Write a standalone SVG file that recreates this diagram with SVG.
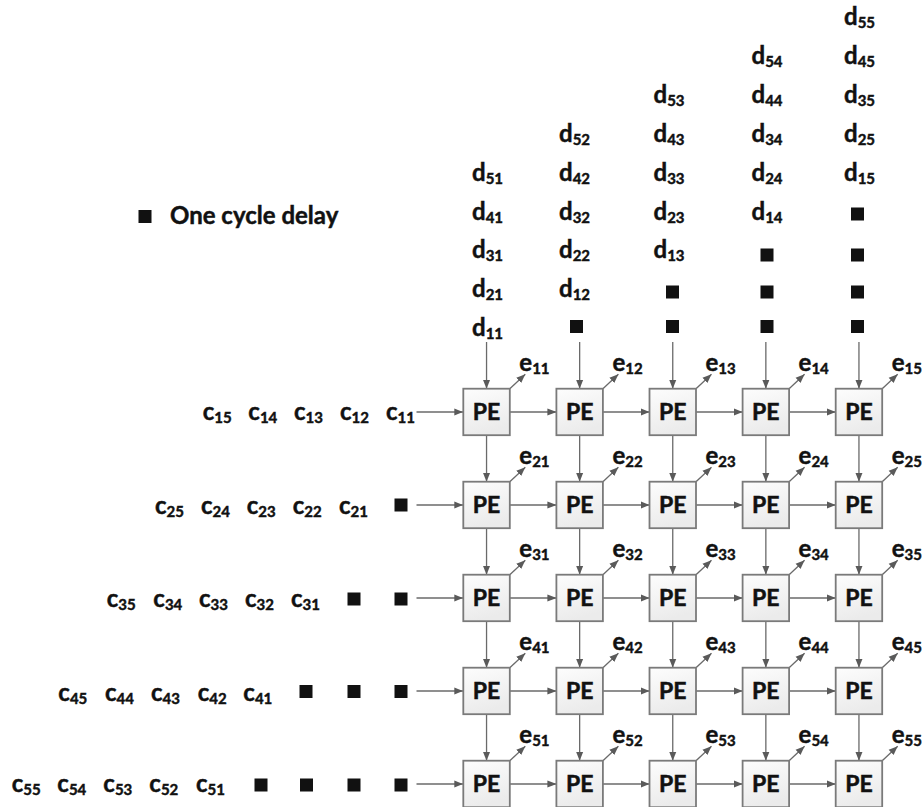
<svg xmlns="http://www.w3.org/2000/svg" width="922" height="807" viewBox="0 0 922 807">
  <defs>
    <linearGradient id="peFill" x1="0" y1="0" x2="0.3" y2="1">
      <stop offset="0" stop-color="#fdfdfd"/>
      <stop offset="1" stop-color="#ebebeb"/>
    </linearGradient>
    <marker id="arr" viewBox="0 0 10 10" refX="10" refY="5" markerUnits="userSpaceOnUse" markerWidth="9" markerHeight="9" orient="auto">
      <path d="M0,1 L10,5 L0,9 Z" fill="#5a5a5a"/>
    </marker>
    <style>
      .pe rect { fill: url(#peFill); stroke: #7a7a7a; stroke-width: 1.8; }
      .pe text { font-family: Lato, "Open Sans", sans-serif; font-weight: 700; font-size: 23px; text-anchor: middle; fill: #111; stroke: #111; stroke-width: 0.5; }
      .lbl { font-family: Lato, "Open Sans", sans-serif; font-weight: 700; font-size: 24px; fill: #111; stroke: #111; stroke-width: 0.45; }
      .lbl tspan { font-size: 15px; }
      .dly { fill: #111; }
      #connectors path { fill: none; stroke: #6a6a6a; stroke-width: 1.3; marker-end: url(#arr); }
    </style>
  </defs>

  <!-- legend -->
  <g id="legend">
    <rect class="dly" x="138.5" y="210" width="13" height="13"/>
    <text class="lbl" x="170" y="223.5">One cycle delay</text>
  </g>

  <!-- connectors: inputs, systolic links and outputs -->
  <g id="connectors">
    <!-- horizontal links -->
    <path d="M416.5,412 H463.3"/><path d="M509.8,412 H556.4"/><path d="M602.9,412 H649.5"/><path d="M696,412 H742.6"/><path d="M789.1,412 H835.7"/>
    <path d="M416.5,505 H463.3"/><path d="M509.8,505 H556.4"/><path d="M602.9,505 H649.5"/><path d="M696,505 H742.6"/><path d="M789.1,505 H835.7"/>
    <path d="M416.5,598 H463.3"/><path d="M509.8,598 H556.4"/><path d="M602.9,598 H649.5"/><path d="M696,598 H742.6"/><path d="M789.1,598 H835.7"/>
    <path d="M416.5,691 H463.3"/><path d="M509.8,691 H556.4"/><path d="M602.9,691 H649.5"/><path d="M696,691 H742.6"/><path d="M789.1,691 H835.7"/>
    <path d="M416.5,784 H463.3"/><path d="M509.8,784 H556.4"/><path d="M602.9,784 H649.5"/><path d="M696,784 H742.6"/><path d="M789.1,784 H835.7"/>
    <!-- vertical links -->
    <path d="M486.55,342 V388.7"/><path d="M486.55,435.2 V481.7"/><path d="M486.55,528.2 V574.7"/><path d="M486.55,621.2 V667.7"/><path d="M486.55,714.2 V760.7"/>
    <path d="M579.65,342 V388.7"/><path d="M579.65,435.2 V481.7"/><path d="M579.65,528.2 V574.7"/><path d="M579.65,621.2 V667.7"/><path d="M579.65,714.2 V760.7"/>
    <path d="M672.75,342 V388.7"/><path d="M672.75,435.2 V481.7"/><path d="M672.75,528.2 V574.7"/><path d="M672.75,621.2 V667.7"/><path d="M672.75,714.2 V760.7"/>
    <path d="M765.85,342 V388.7"/><path d="M765.85,435.2 V481.7"/><path d="M765.85,528.2 V574.7"/><path d="M765.85,621.2 V667.7"/><path d="M765.85,714.2 V760.7"/>
    <path d="M858.95,342 V388.7"/><path d="M858.95,435.2 V481.7"/><path d="M858.95,528.2 V574.7"/><path d="M858.95,621.2 V667.7"/><path d="M858.95,714.2 V760.7"/>
    <!-- result outputs -->
    <path d="M509.8,388.7 l15.5,-14.5"/><path d="M602.9,388.7 l15.5,-14.5"/><path d="M696,388.7 l15.5,-14.5"/><path d="M789.1,388.7 l15.5,-14.5"/><path d="M882.2,388.7 l15.5,-14.5"/>
    <path d="M509.8,481.7 l15.5,-14.5"/><path d="M602.9,481.7 l15.5,-14.5"/><path d="M696,481.7 l15.5,-14.5"/><path d="M789.1,481.7 l15.5,-14.5"/><path d="M882.2,481.7 l15.5,-14.5"/>
    <path d="M509.8,574.7 l15.5,-14.5"/><path d="M602.9,574.7 l15.5,-14.5"/><path d="M696,574.7 l15.5,-14.5"/><path d="M789.1,574.7 l15.5,-14.5"/><path d="M882.2,574.7 l15.5,-14.5"/>
    <path d="M509.8,667.7 l15.5,-14.5"/><path d="M602.9,667.7 l15.5,-14.5"/><path d="M696,667.7 l15.5,-14.5"/><path d="M789.1,667.7 l15.5,-14.5"/><path d="M882.2,667.7 l15.5,-14.5"/>
    <path d="M509.8,760.7 l15.5,-14.5"/><path d="M602.9,760.7 l15.5,-14.5"/><path d="M696,760.7 l15.5,-14.5"/><path d="M789.1,760.7 l15.5,-14.5"/><path d="M882.2,760.7 l15.5,-14.5"/>
  </g>

  <!-- processing elements -->
  <g id="pe-1-1" class="pe" transform="translate(463.3,388.7)"><rect width="46.5" height="46.5"/><text x="23.25" y="31">PE</text></g>
  <g id="pe-1-2" class="pe" transform="translate(556.4,388.7)"><rect width="46.5" height="46.5"/><text x="23.25" y="31">PE</text></g>
  <g id="pe-1-3" class="pe" transform="translate(649.5,388.7)"><rect width="46.5" height="46.5"/><text x="23.25" y="31">PE</text></g>
  <g id="pe-1-4" class="pe" transform="translate(742.6,388.7)"><rect width="46.5" height="46.5"/><text x="23.25" y="31">PE</text></g>
  <g id="pe-1-5" class="pe" transform="translate(835.7,388.7)"><rect width="46.5" height="46.5"/><text x="23.25" y="31">PE</text></g>
  <g id="pe-2-1" class="pe" transform="translate(463.3,481.7)"><rect width="46.5" height="46.5"/><text x="23.25" y="31">PE</text></g>
  <g id="pe-2-2" class="pe" transform="translate(556.4,481.7)"><rect width="46.5" height="46.5"/><text x="23.25" y="31">PE</text></g>
  <g id="pe-2-3" class="pe" transform="translate(649.5,481.7)"><rect width="46.5" height="46.5"/><text x="23.25" y="31">PE</text></g>
  <g id="pe-2-4" class="pe" transform="translate(742.6,481.7)"><rect width="46.5" height="46.5"/><text x="23.25" y="31">PE</text></g>
  <g id="pe-2-5" class="pe" transform="translate(835.7,481.7)"><rect width="46.5" height="46.5"/><text x="23.25" y="31">PE</text></g>
  <g id="pe-3-1" class="pe" transform="translate(463.3,574.7)"><rect width="46.5" height="46.5"/><text x="23.25" y="31">PE</text></g>
  <g id="pe-3-2" class="pe" transform="translate(556.4,574.7)"><rect width="46.5" height="46.5"/><text x="23.25" y="31">PE</text></g>
  <g id="pe-3-3" class="pe" transform="translate(649.5,574.7)"><rect width="46.5" height="46.5"/><text x="23.25" y="31">PE</text></g>
  <g id="pe-3-4" class="pe" transform="translate(742.6,574.7)"><rect width="46.5" height="46.5"/><text x="23.25" y="31">PE</text></g>
  <g id="pe-3-5" class="pe" transform="translate(835.7,574.7)"><rect width="46.5" height="46.5"/><text x="23.25" y="31">PE</text></g>
  <g id="pe-4-1" class="pe" transform="translate(463.3,667.7)"><rect width="46.5" height="46.5"/><text x="23.25" y="31">PE</text></g>
  <g id="pe-4-2" class="pe" transform="translate(556.4,667.7)"><rect width="46.5" height="46.5"/><text x="23.25" y="31">PE</text></g>
  <g id="pe-4-3" class="pe" transform="translate(649.5,667.7)"><rect width="46.5" height="46.5"/><text x="23.25" y="31">PE</text></g>
  <g id="pe-4-4" class="pe" transform="translate(742.6,667.7)"><rect width="46.5" height="46.5"/><text x="23.25" y="31">PE</text></g>
  <g id="pe-4-5" class="pe" transform="translate(835.7,667.7)"><rect width="46.5" height="46.5"/><text x="23.25" y="31">PE</text></g>
  <g id="pe-5-1" class="pe" transform="translate(463.3,760.7)"><rect width="46.5" height="46.5"/><text x="23.25" y="31">PE</text></g>
  <g id="pe-5-2" class="pe" transform="translate(556.4,760.7)"><rect width="46.5" height="46.5"/><text x="23.25" y="31">PE</text></g>
  <g id="pe-5-3" class="pe" transform="translate(649.5,760.7)"><rect width="46.5" height="46.5"/><text x="23.25" y="31">PE</text></g>
  <g id="pe-5-4" class="pe" transform="translate(742.6,760.7)"><rect width="46.5" height="46.5"/><text x="23.25" y="31">PE</text></g>
  <g id="pe-5-5" class="pe" transform="translate(835.7,760.7)"><rect width="46.5" height="46.5"/><text x="23.25" y="31">PE</text></g>

  <!-- output labels -->
  <g id="outputs">
    <text class="lbl" x="519.3" y="371.2">e<tspan dy="3">11</tspan></text>
    <text class="lbl" x="612.4" y="371.2">e<tspan dy="3">12</tspan></text>
    <text class="lbl" x="705.5" y="371.2">e<tspan dy="3">13</tspan></text>
    <text class="lbl" x="798.6" y="371.2">e<tspan dy="3">14</tspan></text>
    <text class="lbl" x="891.7" y="371.2">e<tspan dy="3">15</tspan></text>
    <text class="lbl" x="519.3" y="464.2">e<tspan dy="3">21</tspan></text>
    <text class="lbl" x="612.4" y="464.2">e<tspan dy="3">22</tspan></text>
    <text class="lbl" x="705.5" y="464.2">e<tspan dy="3">23</tspan></text>
    <text class="lbl" x="798.6" y="464.2">e<tspan dy="3">24</tspan></text>
    <text class="lbl" x="891.7" y="464.2">e<tspan dy="3">25</tspan></text>
    <text class="lbl" x="519.3" y="557.2">e<tspan dy="3">31</tspan></text>
    <text class="lbl" x="612.4" y="557.2">e<tspan dy="3">32</tspan></text>
    <text class="lbl" x="705.5" y="557.2">e<tspan dy="3">33</tspan></text>
    <text class="lbl" x="798.6" y="557.2">e<tspan dy="3">34</tspan></text>
    <text class="lbl" x="891.7" y="557.2">e<tspan dy="3">35</tspan></text>
    <text class="lbl" x="519.3" y="650.2">e<tspan dy="3">41</tspan></text>
    <text class="lbl" x="612.4" y="650.2">e<tspan dy="3">42</tspan></text>
    <text class="lbl" x="705.5" y="650.2">e<tspan dy="3">43</tspan></text>
    <text class="lbl" x="798.6" y="650.2">e<tspan dy="3">44</tspan></text>
    <text class="lbl" x="891.7" y="650.2">e<tspan dy="3">45</tspan></text>
    <text class="lbl" x="519.3" y="743.2">e<tspan dy="3">51</tspan></text>
    <text class="lbl" x="612.4" y="743.2">e<tspan dy="3">52</tspan></text>
    <text class="lbl" x="705.5" y="743.2">e<tspan dy="3">53</tspan></text>
    <text class="lbl" x="798.6" y="743.2">e<tspan dy="3">54</tspan></text>
    <text class="lbl" x="891.7" y="743.2">e<tspan dy="3">55</tspan></text>
  </g>

  <!-- column inputs (d) with skew delays -->
  <g id="d-col1">
    <text class="lbl" x="472" y="180.6">d<tspan dy="3">51</tspan></text>
    <text class="lbl" x="472" y="219.5">d<tspan dy="3">41</tspan></text>
    <text class="lbl" x="472" y="258.4">d<tspan dy="3">31</tspan></text>
    <text class="lbl" x="472" y="297.3">d<tspan dy="3">21</tspan></text>
    <text class="lbl" x="472" y="336.2">d<tspan dy="3">11</tspan></text>
  </g>
  <g id="d-col2">
    <text class="lbl" x="559" y="141.7">d<tspan dy="3">52</tspan></text>
    <text class="lbl" x="559" y="180.6">d<tspan dy="3">42</tspan></text>
    <text class="lbl" x="559" y="219.5">d<tspan dy="3">32</tspan></text>
    <text class="lbl" x="559" y="258.4">d<tspan dy="3">22</tspan></text>
    <text class="lbl" x="559" y="297.3">d<tspan dy="3">12</tspan></text>
    <rect class="dly" x="570" y="320" width="13" height="13"/>
  </g>
  <g id="d-col3">
    <text class="lbl" x="653.5" y="102.8">d<tspan dy="3">53</tspan></text>
    <text class="lbl" x="653.5" y="141.7">d<tspan dy="3">43</tspan></text>
    <text class="lbl" x="653.5" y="180.6">d<tspan dy="3">33</tspan></text>
    <text class="lbl" x="653.5" y="219.5">d<tspan dy="3">23</tspan></text>
    <text class="lbl" x="653.5" y="258.4">d<tspan dy="3">13</tspan></text>
    <rect class="dly" x="666" y="285.5" width="13" height="13"/>
    <rect class="dly" x="666" y="320" width="13" height="13"/>
  </g>
  <g id="d-col4">
    <text class="lbl" x="751.5" y="63.9">d<tspan dy="3">54</tspan></text>
    <text class="lbl" x="751.5" y="102.8">d<tspan dy="3">44</tspan></text>
    <text class="lbl" x="751.5" y="141.7">d<tspan dy="3">34</tspan></text>
    <text class="lbl" x="751.5" y="180.6">d<tspan dy="3">24</tspan></text>
    <text class="lbl" x="751.5" y="219.5">d<tspan dy="3">14</tspan></text>
    <rect class="dly" x="760.5" y="248.5" width="13" height="13"/>
    <rect class="dly" x="760.5" y="285.5" width="13" height="13"/>
    <rect class="dly" x="760.5" y="320" width="13" height="13"/>
  </g>
  <g id="d-col5">
    <text class="lbl" x="844" y="25">d<tspan dy="3">55</tspan></text>
    <text class="lbl" x="844" y="63.9">d<tspan dy="3">45</tspan></text>
    <text class="lbl" x="844" y="102.8">d<tspan dy="3">35</tspan></text>
    <text class="lbl" x="844" y="141.7">d<tspan dy="3">25</tspan></text>
    <text class="lbl" x="844" y="180.6">d<tspan dy="3">15</tspan></text>
    <rect class="dly" x="851" y="207.5" width="13" height="13"/>
    <rect class="dly" x="851" y="248.5" width="13" height="13"/>
    <rect class="dly" x="851" y="285.5" width="13" height="13"/>
    <rect class="dly" x="851" y="320" width="13" height="13"/>
  </g>

  <!-- row inputs (c) with skew delays -->
  <g id="c-row1">
    <text class="lbl" x="202.7" y="420">c<tspan dy="3">15</tspan></text>
    <text class="lbl" x="248.3" y="420">c<tspan dy="3">14</tspan></text>
    <text class="lbl" x="294" y="420">c<tspan dy="3">13</tspan></text>
    <text class="lbl" x="340" y="420">c<tspan dy="3">12</tspan></text>
    <text class="lbl" x="386" y="420">c<tspan dy="3">11</tspan></text>
  </g>
  <g id="c-row2">
    <text class="lbl" x="155" y="513.5">c<tspan dy="3">25</tspan></text>
    <text class="lbl" x="201" y="513.5">c<tspan dy="3">24</tspan></text>
    <text class="lbl" x="246.7" y="513.5">c<tspan dy="3">23</tspan></text>
    <text class="lbl" x="292.7" y="513.5">c<tspan dy="3">22</tspan></text>
    <text class="lbl" x="339" y="513.5">c<tspan dy="3">21</tspan></text>
    <rect class="dly" x="394.5" y="498.5" width="13" height="13"/>
  </g>
  <g id="c-row3">
    <text class="lbl" x="106.7" y="607">c<tspan dy="3">35</tspan></text>
    <text class="lbl" x="153.3" y="607">c<tspan dy="3">34</tspan></text>
    <text class="lbl" x="199" y="607">c<tspan dy="3">33</tspan></text>
    <text class="lbl" x="245" y="607">c<tspan dy="3">32</tspan></text>
    <text class="lbl" x="291" y="607">c<tspan dy="3">31</tspan></text>
    <rect class="dly" x="347.5" y="592.5" width="13" height="13"/>
    <rect class="dly" x="394.5" y="592.5" width="13" height="13"/>
  </g>
  <g id="c-row4">
    <text class="lbl" x="58.3" y="700.5">c<tspan dy="3">45</tspan></text>
    <text class="lbl" x="105" y="700.5">c<tspan dy="3">44</tspan></text>
    <text class="lbl" x="151" y="700.5">c<tspan dy="3">43</tspan></text>
    <text class="lbl" x="197.7" y="700.5">c<tspan dy="3">42</tspan></text>
    <text class="lbl" x="243.3" y="700.5">c<tspan dy="3">41</tspan></text>
    <rect class="dly" x="299.5" y="685" width="13" height="13"/>
    <rect class="dly" x="347.5" y="685" width="13" height="13"/>
    <rect class="dly" x="394.5" y="685" width="13" height="13"/>
  </g>
  <g id="c-row5">
    <text class="lbl" x="11.7" y="792">c<tspan dy="3">55</tspan></text>
    <text class="lbl" x="57.3" y="792">c<tspan dy="3">54</tspan></text>
    <text class="lbl" x="103.3" y="792">c<tspan dy="3">53</tspan></text>
    <text class="lbl" x="149.3" y="792">c<tspan dy="3">52</tspan></text>
    <text class="lbl" x="196" y="792">c<tspan dy="3">51</tspan></text>
    <rect class="dly" x="254.5" y="778.5" width="13" height="13"/>
    <rect class="dly" x="300" y="778.5" width="13" height="13"/>
    <rect class="dly" x="347.5" y="778.5" width="13" height="13"/>
    <rect class="dly" x="394.5" y="778.5" width="13" height="13"/>
  </g>
</svg>
